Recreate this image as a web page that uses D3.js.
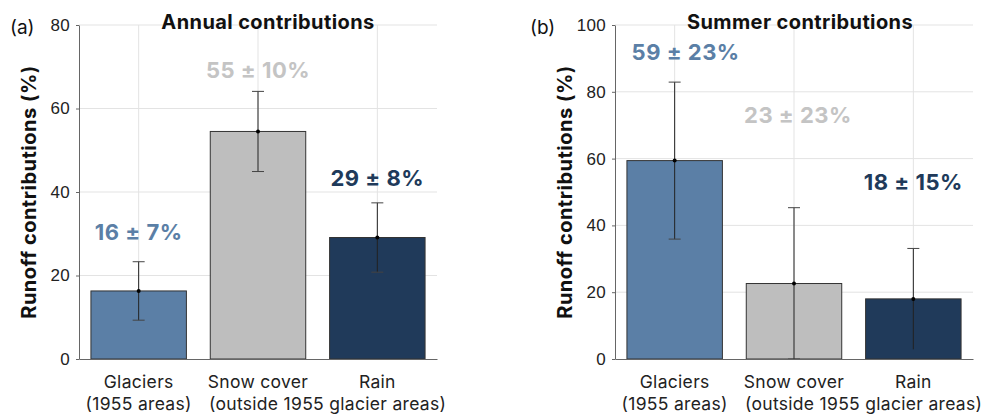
<!DOCTYPE html>
<html>
<head>
<meta charset="utf-8">
<script src="https://cdn.jsdelivr.net/npm/d3@7"></script>
<style>
  body { margin: 0; background: #fff; }
  svg { font-family: "Inter", "Open Sans", sans-serif; }
  .grid line { stroke: #e3e3e3; stroke-width: 1; }
  .axis path, .axis line { stroke: #666; }
  .axis text { font-size: 17px; fill: #222; letter-spacing: 0.3px; }
</style>
</head>
<body>
<div id="chart"></div>
<script>
// categorias e valores
const categorias = ["Glaciers", "Snow cover", "Rain"];
const linha2 = ["(1955 areas)", "(outside 1955 glacier areas)", ""];
const cores = ["#5b7fa6", "#bebebe", "#203a5a"];
const coresTexto = ["#5b7fa6", "#c4c4c4", "#203a5a"];

const anualMedia = [16.3, 54.5, 29.1];
const anualErro = [7.0, 9.6, 8.3];
const anualRotulos = ["16 ± 7%", "55 ± 10%", "29 ± 8%"];
const anualTicks = [0, 20, 40, 60, 80];

const veraoMedia = [59.4, 22.6, 18.0];
const veraoErro = [23.5, 22.7, 15.1];
const veraoRotulos = ["59 ± 23%", "23 ± 23%", "18 ± 15%"];
const veraoTicks = [0, 20, 40, 60, 80, 100];

const svg = d3.select("#chart").append("svg")
  .attr("width", 995)
  .attr("height", 416);

// desenha um painel
function painel(cfg) {
  const { left, right, top, bottom, ymax, ticks, medias, erros, rotulos, rotuloY, titulo, tituloX, letra, letraX, ylabelX } = cfg;

  const x = d3.scaleLinear().domain([0.5, 3.5]).range([left, right]);
  const y = d3.scaleLinear().domain([0, ymax]).range([bottom, top]);
  const bw = x(1.4) - x(0.6);

  const g = svg.append("g");

  // grade
  const grid = g.append("g").attr("class", "grid");
  grid.selectAll(".h").data(ticks.filter(t => t > 0)).join("line")
    .attr("x1", left).attr("x2", right)
    .attr("y1", d => y(d)).attr("y2", d => y(d));
  grid.selectAll(".v").data([1, 2, 3]).join("line")
    .attr("x1", d => x(d)).attr("x2", d => x(d))
    .attr("y1", top).attr("y2", bottom);

  // barras
  g.selectAll(".bar").data(medias).join("rect")
    .attr("x", (d, i) => x(i + 1) - bw / 2)
    .attr("y", d => y(d))
    .attr("width", bw)
    .attr("height", d => bottom - y(d))
    .attr("fill", (d, i) => cores[i])
    .attr("stroke", "#333")
    .attr("stroke-width", 1);

  // barras de erro
  const err = g.selectAll(".err").data(medias).join("g").attr("class", "err");
  const lo = (d, i) => y(Math.max(0, d - erros[i]));
  const hi = (d, i) => y(d + erros[i]);
  err.append("line")
    .attr("x1", (d, i) => x(i + 1)).attr("x2", (d, i) => x(i + 1))
    .attr("y1", lo).attr("y2", hi)
    .attr("stroke", "#222").attr("stroke-width", 1);
  err.append("line")
    .attr("x1", (d, i) => x(i + 1) - 6).attr("x2", (d, i) => x(i + 1) + 6)
    .attr("y1", hi).attr("y2", hi)
    .attr("stroke", "#444").attr("stroke-width", 1);
  err.filter((d, i) => d - erros[i] > 0).append("line")
    .attr("x1", (d, i) => x(i + 1) - 6).attr("x2", (d, i) => x(i + 1) + 6)
    .attr("y1", lo).attr("y2", lo)
    .attr("stroke", "#444").attr("stroke-width", 1);
  err.append("circle")
    .attr("cx", (d, i) => x(i + 1)).attr("cy", d => y(d))
    .attr("r", 2).attr("fill", "#000");

  // eixos
  g.append("g").attr("class", "axis")
    .attr("transform", `translate(${left},0)`)
    .call(d3.axisLeft(y).tickValues(ticks).tickSize(3).tickSizeOuter(0).tickPadding(6));
  g.append("g").attr("class", "axis")
    .attr("transform", `translate(0,${bottom})`)
    .call(d3.axisBottom(x).tickValues([]).tickSizeOuter(0));

  // rótulos do eixo x
  const fonteX = { size: "17.5px", ls: "0.3px" };
  g.selectAll(".cat").data(categorias).join("text")
    .attr("x", (d, i) => x(i + 1)).attr("y", bottom + 29)
    .attr("text-anchor", "middle")
    .style("font-size", fonteX.size).style("letter-spacing", fonteX.ls).style("fill", "#222")
    .text(d => d);
  g.append("text")
    .attr("x", x(1)).attr("y", bottom + 51)
    .attr("text-anchor", "middle")
    .style("font-size", fonteX.size).style("letter-spacing", fonteX.ls).style("fill", "#222")
    .text(linha2[0]);
  g.append("text")
    .attr("x", x(2) - 49).attr("y", bottom + 51)
    .attr("text-anchor", "start")
    .style("font-size", fonteX.size).style("letter-spacing", fonteX.ls).style("fill", "#222")
    .text(linha2[1]);

  // valores
  g.selectAll(".val").data(rotulos).join("text")
    .attr("x", (d, i) => x(i + 1) + (cfg.desloc ? cfg.desloc[i] : 0))
    .attr("y", (d, i) => rotuloY[i])
    .attr("text-anchor", "middle")
    .style("font-size", "22px").style("font-weight", "700").style("letter-spacing", "0.5px")
    .style("fill", (d, i) => coresTexto[i])
    .text(d => d);

  // título
  g.append("text")
    .attr("x", tituloX).attr("y", 29)
    .attr("text-anchor", "middle")
    .style("font-size", "20px").style("font-weight", "700").style("letter-spacing", "0.4px").style("fill", "#111")
    .text(titulo);

  g.append("text")
    .attr("x", letraX).attr("y", 34)
    .style("font-size", "19px").style("fill", "#111")
    .text(letra);

  g.append("text")
    .attr("transform", `translate(${ylabelX},${(top + bottom) / 2}) rotate(-90)`)
    .attr("text-anchor", "middle")
    .style("font-size", "20px").style("font-weight", "700").style("letter-spacing", "0.5px").style("fill", "#111")
    .text("Runoff contributions (%)");
}

painel({
  left: 79, right: 437, top: 25, bottom: 359, ymax: 80, ticks: anualTicks,
  medias: anualMedia, erros: anualErro, rotulos: anualRotulos,
  rotuloY: [240, 78, 186], titulo: "Annual contributions", tituloX: 268,
  letra: "(a)", letraX: 10, ylabelX: 36
});

painel({
  left: 615, right: 973, top: 25, bottom: 359, ymax: 100, ticks: veraoTicks,
  medias: veraoMedia, erros: veraoErro, rotulos: veraoRotulos,
  rotuloY: [60, 123, 190], desloc: [11, 4, 0], titulo: "Summer contributions", tituloX: 800,
  letra: "(b)", letraX: 530, ylabelX: 572
});
</script>
</body>
</html>
